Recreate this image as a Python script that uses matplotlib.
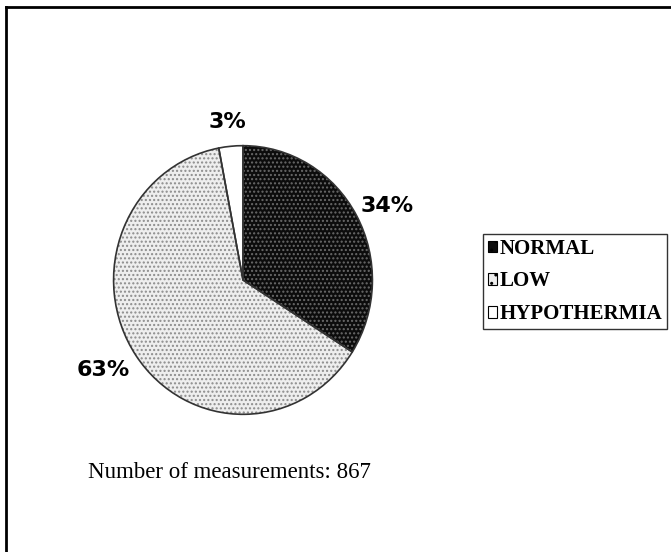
import matplotlib.pyplot as plt
from matplotlib.patches import Patch
from matplotlib.lines import Line2D

# ---- data ----
categories = ['NORMAL', 'LOW', 'HYPOTHERMIA']
shares = [34, 63, 3]
pct_labels = ['34%', '63%', '3%']
note = 'Number of measurements: 867'

face_colors = ['#0c0c0c', '#eeeeee', '#ffffff']
dot_colors = ['#6a6a6a', '#8c8c8c', '#ffffff']
hatches = ['....', '....', '']
# label spots in pie units (x, y)
label_pos = [(1.11, 0.55), (-1.08, -0.67), (-0.12, 1.18)]

W, H = 671, 552
fig = plt.figure(figsize=(W / 100, H / 100), dpi=100)

# pie centre ~ (243, 280) px, radii 132 x 137 px
cx, cy, rx, ry = 243, 280, 132, 137
ax = fig.add_axes([(cx - rx) / W, (H - cy - ry) / H, 2 * rx / W, 2 * ry / H])

# textured fill first, then the outlines on top
wedges, _ = ax.pie(shares, startangle=90, counterclock=False, radius=1,
                   colors=face_colors, wedgeprops=dict(linewidth=0))
for w, dc, h in zip(wedges, dot_colors, hatches):
    w.set_hatch(h)
    w.set_edgecolor(dc)
ax.pie(shares, startangle=90, counterclock=False, radius=1,
       colors=['none'] * 3,
       wedgeprops=dict(linewidth=1.2, edgecolor='#333333', fill=False))
ax.set_aspect('auto')
ax.set_xlim(-1.02, 1.02)
ax.set_ylim(-1.02, 1.02)

for txt, (x, y) in zip(pct_labels, label_pos):
    ax.text(x, y, txt, ha='center', va='center', fontsize=16,
            fontweight='bold', family='DejaVu Sans', color='black')

fig.text(229 / W, 1 - 473 / H, note, ha='center', va='center',
         fontsize=16.5, family='Liberation Serif', color='black')

handles = [Patch(facecolor=fc, edgecolor='black', hatch=h, linewidth=0.8)
           for fc, h in zip(face_colors, ['..', '..', ''])]
leg = fig.legend(handles, categories, loc='upper left',
                 bbox_to_anchor=(483 / W, 1 - 234 / H), borderaxespad=0,
                 frameon=True, fancybox=False, shadow=False,
                 handlelength=0.45, handleheight=0.45, handletextpad=0.12,
                 borderpad=0.22, labelspacing=0.62,
                 prop=dict(family='Liberation Serif', weight='bold', size=15))
leg.get_frame().set_edgecolor('black')
leg.get_frame().set_linewidth(1.0)

# outer frame: only top and left edges show in the reference
fig.add_artist(Line2D([6 / W, 1], [1 - 7 / H, 1 - 7 / H], color='black', lw=2,
                      transform=fig.transFigure))
fig.add_artist(Line2D([6 / W, 6 / W], [0, 1 - 7 / H], color='black', lw=2,
                      transform=fig.transFigure))

fig.savefig('out.png', dpi=100, facecolor='white')
